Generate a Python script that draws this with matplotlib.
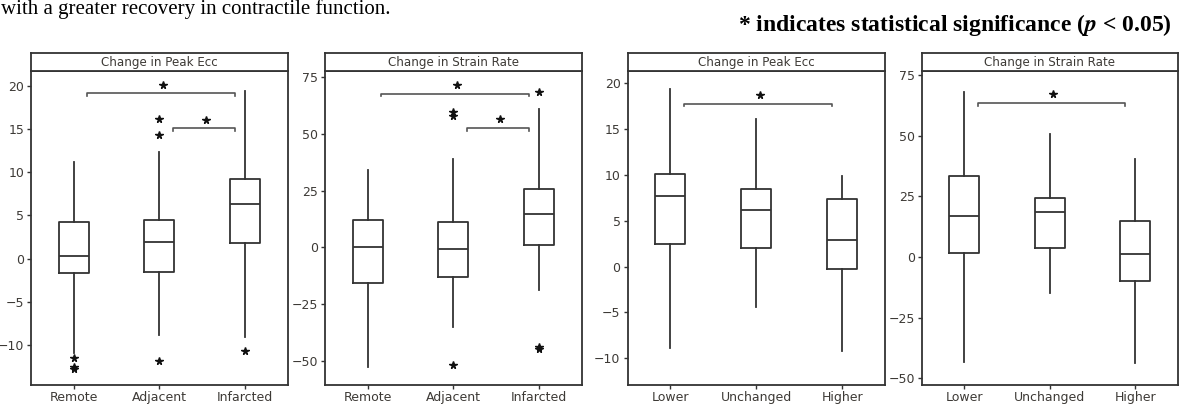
import matplotlib
matplotlib.use("Agg")
import matplotlib.pyplot as plt

plt.rcParams["mathtext.fontset"] = "stix"

# --- data ------------------------------------------------------------------
region_cats = ["Remote", "Adjacent", "Infarcted"]
change_cats = ["Lower", "Unchanged", "Higher"]

# Change in Peak Ecc by region: whislo, q1, med, q3, whishi
ecc_region_low = [-10.9, -8.9, -9.05]
ecc_region_q1 = [-1.7, -1.6, 1.8]
ecc_region_med = [0.33, 1.95, 6.3]
ecc_region_q3 = [4.2, 4.45, 9.15]
ecc_region_high = [11.2, 12.3, 19.4]
ecc_region_fliers = [[-11.5, -12.5, -12.8], [16.2, 14.3, -11.8], [-10.7]]

# Change in Strain Rate by region
sr_region_low = [-52.6, -34.8, -18.6]
sr_region_q1 = [-15.7, -12.8, 1.0]
sr_region_med = [0.4, -0.7, 14.5]
sr_region_q3 = [12.2, 11.0, 25.8]
sr_region_high = [34.2, 38.9, 61.0]
sr_region_fliers = [[], [59.4, 57.9, -51.6], [68.3, -43.8, -44.7]]

# Change in Peak Ecc by contractile change
ecc_change_low = [-8.9, -4.36, -9.2]
ecc_change_q1 = [2.47, 2.07, -0.25]
ecc_change_med = [7.7, 6.2, 2.9]
ecc_change_q3 = [10.07, 8.44, 7.35]
ecc_change_high = [19.35, 16.1, 9.9]

# Change in Strain Rate by contractile change
sr_change_low = [-43.1, -14.8, -43.8]
sr_change_q1 = [1.8, 3.7, -9.7]
sr_change_med = [17.0, 18.6, 1.2]
sr_change_q3 = [33.6, 24.4, 14.9]
sr_change_high = [68.1, 50.8, 40.3]

# significance brackets: (from group, to group, level)
ecc_region_sig = [(1, 3, 19.1), (2, 3, 15.05)]
sr_region_sig = [(1, 3, 67.6), (2, 3, 52.5)]
ecc_change_sig = [(1, 3, 17.8)]
sr_change_sig = [(1, 3, 63.5)]

LINE = "#333333"
TXT = "#3d3a36"

W, H = 1180, 407
fig = plt.figure(figsize=(W / 100, H / 100), dpi=100)
fig.patch.set_facecolor("white")


def make_stats(low, q1, med, q3, high, fliers=None):
    out = []
    for i in range(len(med)):
        out.append(dict(whislo=low[i], q1=q1[i], med=med[i], q3=q3[i],
                        whishi=high[i],
                        fliers=fliers[i] if fliers else []))
    return out


def panel(x0, x1, title, cats, stats, ylim, yticks, sig, span):
    top, bot, htop = 71, 384.5, 52.7
    ax = fig.add_axes([x0 / W, (H - bot) / H, (x1 - x0) / W, (bot - top) / H])
    hx = fig.add_axes([x0 / W, (H - top) / H, (x1 - x0) / W, (top - htop) / H])
    hx.set_xticks([])
    hx.set_yticks([])
    for s in hx.spines.values():
        s.set_color(LINE)
        s.set_linewidth(1.3)
    hx.text(0.5, 0.45, title, ha="center", va="center", fontsize=8.6,
            color=TXT, transform=hx.transAxes)

    ax.bxp(stats, positions=[1, 2, 3], widths=0.35, showcaps=False,
           boxprops=dict(color=LINE, lw=1.3),
           whiskerprops=dict(color=LINE, lw=1.3),
           medianprops=dict(color=LINE, lw=1.3),
           flierprops=dict(marker="*", markersize=5.5, markerfacecolor="#111111",
                           markeredgecolor="#111111", linestyle="none"))
    ax.set_xlim(0.5, 3.5)
    ax.set_ylim(*ylim)
    ax.set_yticks(yticks)
    ax.set_xticks([1, 2, 3])
    ax.set_xticklabels(cats)
    ax.tick_params(axis="both", length=3, width=1, color=LINE, labelsize=9,
                   labelcolor=TXT, pad=2)
    for s in ax.spines.values():
        s.set_color(LINE)
        s.set_linewidth(1.3)

    d = span * 0.009
    for a, b, y in sig:
        ax.plot([a + 0.16, a + 0.16, b - 0.12, b - 0.12], [y - d, y, y, y - d],
                color="#555555", lw=1.2, solid_joinstyle="round")
        ax.plot([(a + b) / 2 + 0.04], [y + span * 0.028], marker="*",
                markersize=5.5, color="#111111", linestyle="none")
    return ax


panel(31, 287.7, "Change in Peak Ecc", region_cats,
      make_stats(ecc_region_low, ecc_region_q1, ecc_region_med, ecc_region_q3,
                 ecc_region_high, ecc_region_fliers),
      (-14.57, 21.7), [-10, -5, 0, 5, 10, 15, 20], ecc_region_sig, 36.3)
panel(325, 581.7, "Change in Strain Rate", region_cats,
      make_stats(sr_region_low, sr_region_q1, sr_region_med, sr_region_q3,
                 sr_region_high, sr_region_fliers),
      (-60.2, 77.5), [-50, -25, 0, 25, 50, 75], sr_region_sig, 137.7)
panel(627.5, 885, "Change in Peak Ecc", change_cats,
      make_stats(ecc_change_low, ecc_change_q1, ecc_change_med, ecc_change_q3,
                 ecc_change_high),
      (-12.86, 21.35), [-10, -5, 0, 5, 10, 15, 20], ecc_change_sig, 34.2)
panel(921.7, 1178, "Change in Strain Rate", change_cats,
      make_stats(sr_change_low, sr_change_q1, sr_change_med, sr_change_q3,
                 sr_change_high),
      (-52.5, 76.7), [-50, -25, 0, 25, 50, 75], sr_change_sig, 129.2)

# text around the figure
fig.text(0.001, 1 - 14 / H, "with a greater recovery in contractile function.",
         family="Liberation Serif", fontsize=15, color="black",
         ha="left", va="baseline")
fig.text(1172 / W, 1 - 31.5 / H,
         "* indicates statistical significance ($\\mathbfit{p}$ < 0.05)",
         family="Liberation Serif", fontsize=17, fontweight="bold",
         color="black", ha="right", va="baseline")

fig.savefig("out.png", dpi=100)
